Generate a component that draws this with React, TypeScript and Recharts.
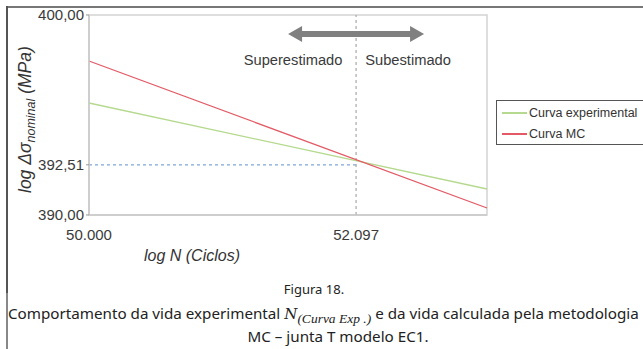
import React from 'react';
import { LineChart, Line, XAxis, YAxis, ReferenceLine, ReferenceArea } from 'recharts';

const xValues = [50000, 53125];
const experimentalValues = [395.6, 391.3];
const mcValues = [397.7, 390.35];
const xTicks = [50000, 52097];
const yTicks = [390, 392.51, 400];
const crossX = 52097;
const crossY = 392.51;
const seriesNames = ['Curva experimental', 'Curva MC'];
const seriesColors = ['#b5d98e', '#e35a66'];
const leftLabel = 'Superestimado';
const rightLabel = 'Subestimado';

const data = xValues.map((x, i) => ({ x, exp: experimentalValues[i], mc: mcValues[i] }));

const fmtX = (v: number) => Math.round(v).toString().replace(/\B(?=(\d{3})+(?!\d))/g, '.');
const fmtY = (v: number) => v.toFixed(2).replace('.', ',');

const SANS = '"Liberation Sans", Arial, sans-serif';
const CAP = '"Noto Sans", "Open Sans", sans-serif';

const XTick = (props: any) => {
  const { x, y, payload } = props;
  return (
    <text x={x} y={y + 19} textAnchor="middle" dominantBaseline="central" fill="#3a3a3a" fontSize={15} fontFamily={SANS}>
      {fmtX(payload.value)}
    </text>
  );
};

const ArrowLabel = (props: any) => {
  const vb = props.viewBox || {};
  const cx = vb.x;
  const top = vb.y;
  const ay = top + 19;
  const t = 68, h = 14, hh = 8, sh = 3;
  const d = `M${cx - t},${ay} L${cx - t + h},${ay - hh} L${cx - t + h},${ay - sh} L${cx + t - h},${ay - sh} L${cx + t - h},${ay - hh} L${cx + t},${ay} L${cx + t - h},${ay + hh} L${cx + t - h},${ay + sh} L${cx - t + h},${ay + sh} L${cx - t + h},${ay + hh} Z`;
  return (
    <g>
      <path d={d} fill="#808080" />
      <text x={cx - 63} y={top + 45} textAnchor="middle" dominantBaseline="central" fill="#3a3a3a" fontSize={14.7} fontFamily={SANS}>{leftLabel}</text>
      <text x={cx + 52} y={top + 45} textAnchor="middle" dominantBaseline="central" fill="#3a3a3a" fontSize={14.7} fontFamily={SANS}>{rightLabel}</text>
    </g>
  );
};

export default function App() {
  return (
    <div style={{ position: 'fixed', left: 0, top: 0, width: 643, height: 349, overflow: 'hidden', background: '#fff' }}>
      <div style={{ position: 'absolute', left: 6, top: 6, width: 637, height: 2, background: '#777' }} />
      <div style={{ position: 'absolute', left: 6, top: 6, width: 2, height: 287, background: '#555' }} />
      <div style={{ position: 'absolute', left: 6, top: 293, width: 2, height: 56, background: '#888' }} />
      <div style={{ position: 'absolute', left: 0, top: 0 }}>
        <LineChart width={643} height={260} data={data} margin={{ top: 15, right: 156, bottom: 15, left: 0 }}>
          <ReferenceArea x1={xValues[0]} x2={xValues[1]} y1={390} y2={400} fill="none" stroke="#d3d3d3" strokeWidth={1.5} ifOverflow="visible" />
          <XAxis
            dataKey="x"
            type="number"
            domain={[xValues[0], xValues[1]]}
            ticks={xTicks}
            height={30}
            tickLine={false}
            tickSize={0}
            tickMargin={0}
            axisLine={{ stroke: '#c8c8c8', strokeWidth: 1.5 }}
            tick={<XTick />}
            interval={0}
          />
          <YAxis
            type="number"
            domain={[390, 400]}
            ticks={yTicks}
            width={89}
            tickSize={3}
            tickMargin={2}
            tickLine={{ stroke: '#999' }}
            axisLine={{ stroke: '#c8c8c8', strokeWidth: 1.5 }}
            tickFormatter={fmtY}
            tick={{ fill: '#3a3a3a', fontSize: 15, fontFamily: SANS }}
            interval={0}
          />
          <ReferenceLine
            segment={[{ x: xValues[0], y: crossY }, { x: crossX, y: crossY }]}
            stroke="#7fa6d8"
            strokeDasharray="3 3"
            strokeWidth={1.2}
          />
          <ReferenceLine x={crossX} stroke="#a8a8a8" strokeDasharray="3 3" strokeWidth={1.2} label={<ArrowLabel />} />
          <Line type="linear" dataKey="exp" stroke={seriesColors[0]} strokeWidth={1.3} dot={false} isAnimationActive={false} />
          <Line type="linear" dataKey="mc" stroke={seriesColors[1]} strokeWidth={1.3} dot={false} isAnimationActive={false} />
        </LineChart>
      </div>
      <svg width={643} height={349} style={{ position: 'absolute', left: 0, top: 0, pointerEvents: 'none' }}>
        <text x={192} y={255} textAnchor="middle" dominantBaseline="central" fill="#333" fontSize={16} fontStyle="italic" fontFamily={SANS}>log N (Ciclos)</text>
        <text transform="translate(31,193) rotate(-90)" textAnchor="start" fill="#333" fontSize={17.5} fontStyle="italic" fontFamily={SANS}>
          <tspan>log Δσ</tspan>
          <tspan dy={4} fontSize={12.5}>nominal</tspan>
          <tspan dy={-4}> (MPa)</tspan>
        </text>
      </svg>
      <div style={{ position: 'absolute', left: 496, top: 100, width: 170, height: 43, border: '1px solid #555', background: '#fff', fontFamily: SANS, fontSize: 12.5, color: '#333' }}>
        {seriesNames.map((name, i) => (
          <div key={name} style={{ position: 'absolute', left: 5, top: 4 + i * 21, height: 16, display: 'flex', alignItems: 'center', whiteSpace: 'nowrap' }}>
            <span style={{ display: 'inline-block', width: 25, height: 1.5, background: seriesColors[i], marginRight: 2 }} />
            <span>{name}</span>
          </div>
        ))}
      </div>
      <div style={{ position: 'absolute', left: 0, width: 628, top: 280, textAlign: 'center', fontFamily: CAP, fontSize: 13, color: '#222', lineHeight: '18px' }}>
        Figura 18.
      </div>
      <div style={{ position: 'absolute', left: 8, top: 303, whiteSpace: 'nowrap', fontFamily: CAP, fontSize: 15.2, color: '#222', lineHeight: '20px' }}>
        Comportamento da vida experimental{' '}
        <span style={{ fontFamily: '"DejaVu Serif", "Liberation Serif", serif', fontStyle: 'italic', fontSize: 15 }}>N</span>
        <span style={{ fontFamily: '"Liberation Serif", serif', fontStyle: 'italic', fontSize: 13.5, position: 'relative', top: 4 }}>(Curva Exp .)</span>
        {' '}e da vida calculada pela metodologia
      </div>
      <div style={{ position: 'absolute', left: 0, width: 676, top: 326, textAlign: 'center', fontFamily: CAP, fontSize: 15.2, color: '#222', lineHeight: '20px' }}>
        MC – junta T modelo EC1.
      </div>
    </div>
  );
}
